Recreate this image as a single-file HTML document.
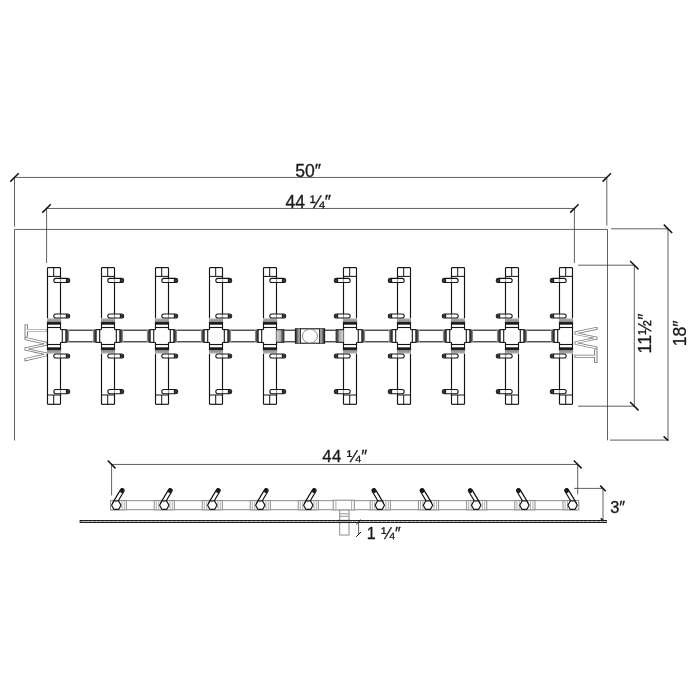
<!DOCTYPE html>
<html lang="en"><head><meta charset="utf-8"><title>Burner dimensions</title>
<style>
html,body{margin:0;padding:0;background:#fff;}
body{width:700px;height:700px;overflow:hidden;}
svg{display:block;will-change:transform;filter:grayscale(1);}
text{font-family:"Liberation Sans",Arial,Helvetica,sans-serif;fill:#1a1a1a;}
#labels text{stroke:#1a1a1a;stroke-width:0.3px;}
.wt{fill:none;stroke:#7c7c7c;stroke-width:0.95px;}
</style></head><body>
<svg width="700" height="700" viewBox="0 0 700 700">
<defs>
<linearGradient id="thrU" x1="0" y1="0" x2="0" y2="1"><stop offset="0" stop-color="#b4b4b4"/><stop offset="0.55" stop-color="#8c8c8c"/><stop offset="0.66" stop-color="#222"/><stop offset="1" stop-color="#1a1a1a"/></linearGradient>
<linearGradient id="thrD" x1="0" y1="1" x2="0" y2="0"><stop offset="0" stop-color="#b4b4b4"/><stop offset="0.55" stop-color="#8c8c8c"/><stop offset="0.66" stop-color="#222"/><stop offset="1" stop-color="#1a1a1a"/></linearGradient>
<linearGradient id="thrR" x1="1" y1="0" x2="0" y2="0"><stop offset="0" stop-color="#a8a8a8"/><stop offset="0.45" stop-color="#555"/><stop offset="1" stop-color="#1e1e1e"/></linearGradient>
<linearGradient id="thrL" x1="0" y1="0" x2="1" y2="0"><stop offset="0" stop-color="#a8a8a8"/><stop offset="0.45" stop-color="#555"/><stop offset="1" stop-color="#1e1e1e"/></linearGradient>
<linearGradient id="nipR" x1="0" y1="0" x2="1" y2="0"><stop offset="0" stop-color="#d8d8d8"/><stop offset="0.5" stop-color="#b0b0b0"/><stop offset="0.72" stop-color="#5a5a5a"/><stop offset="1" stop-color="#2a2a2a"/></linearGradient>
<linearGradient id="nipL" x1="1" y1="0" x2="0" y2="0"><stop offset="0" stop-color="#d8d8d8"/><stop offset="0.5" stop-color="#b0b0b0"/><stop offset="0.72" stop-color="#5a5a5a"/><stop offset="1" stop-color="#2a2a2a"/></linearGradient>
<linearGradient id="teeB" x1="0" y1="0" x2="1" y2="0"><stop offset="0" stop-color="#222"/><stop offset="0.3" stop-color="#555"/><stop offset="0.6" stop-color="#999"/><stop offset="0.85" stop-color="#aaa"/><stop offset="1" stop-color="#444"/></linearGradient>
<linearGradient id="teeC" x1="1" y1="0" x2="0" y2="0"><stop offset="0" stop-color="#222"/><stop offset="0.3" stop-color="#555"/><stop offset="0.6" stop-color="#999"/><stop offset="0.85" stop-color="#aaa"/><stop offset="1" stop-color="#444"/></linearGradient>
</defs>
<rect x="0" y="0" width="700" height="700" fill="#fff"/>

<g id="pan">
<line x1="14.50" y1="229.45" x2="607.50" y2="229.45" stroke="#3a3a3a" stroke-width="0.8" />
<line x1="14.50" y1="229.45" x2="14.50" y2="440.50" stroke="#3a3a3a" stroke-width="0.8" />
<line x1="607.50" y1="229.45" x2="607.50" y2="440.30" stroke="#3a3a3a" stroke-width="0.8" />
</g>
<g id="wt">
<text class="wt" font-size="31.4" transform="translate(47.1,360.9) rotate(-90)" x="0" y="0"><tspan textLength="23.9" lengthAdjust="spacingAndGlyphs">W</tspan><tspan textLength="13.0" lengthAdjust="spacingAndGlyphs">T</tspan></text>
<text class="wt" font-size="31.4" transform="translate(574.8,327.1) rotate(90)" x="0" y="0"><tspan textLength="22.2" lengthAdjust="spacingAndGlyphs">W</tspan><tspan textLength="14.0" lengthAdjust="spacingAndGlyphs">T</tspan></text>
</g>
<g id="top">
<line x1="69.10" y1="330.20" x2="92.90" y2="330.20" stroke="#141414" stroke-width="1.1" />
<line x1="69.10" y1="341.80" x2="92.90" y2="341.80" stroke="#141414" stroke-width="1.1" />
<line x1="123.10" y1="330.20" x2="146.90" y2="330.20" stroke="#141414" stroke-width="1.1" />
<line x1="123.10" y1="341.80" x2="146.90" y2="341.80" stroke="#141414" stroke-width="1.1" />
<line x1="177.10" y1="330.20" x2="200.90" y2="330.20" stroke="#141414" stroke-width="1.1" />
<line x1="177.10" y1="341.80" x2="200.90" y2="341.80" stroke="#141414" stroke-width="1.1" />
<line x1="231.10" y1="330.20" x2="254.90" y2="330.20" stroke="#141414" stroke-width="1.1" />
<line x1="231.10" y1="341.80" x2="254.90" y2="341.80" stroke="#141414" stroke-width="1.1" />
<line x1="284.40" y1="330.20" x2="295.40" y2="330.20" stroke="#141414" stroke-width="1.1" />
<line x1="284.40" y1="341.80" x2="295.40" y2="341.80" stroke="#141414" stroke-width="1.1" />
<line x1="324.60" y1="330.20" x2="335.60" y2="330.20" stroke="#141414" stroke-width="1.1" />
<line x1="324.60" y1="341.80" x2="335.60" y2="341.80" stroke="#141414" stroke-width="1.1" />
<line x1="365.10" y1="330.20" x2="388.90" y2="330.20" stroke="#141414" stroke-width="1.1" />
<line x1="365.10" y1="341.80" x2="388.90" y2="341.80" stroke="#141414" stroke-width="1.1" />
<line x1="419.10" y1="330.20" x2="442.90" y2="330.20" stroke="#141414" stroke-width="1.1" />
<line x1="419.10" y1="341.80" x2="442.90" y2="341.80" stroke="#141414" stroke-width="1.1" />
<line x1="473.10" y1="330.20" x2="496.90" y2="330.20" stroke="#141414" stroke-width="1.1" />
<line x1="473.10" y1="341.80" x2="496.90" y2="341.80" stroke="#141414" stroke-width="1.1" />
<line x1="527.10" y1="330.20" x2="550.90" y2="330.20" stroke="#141414" stroke-width="1.1" />
<line x1="527.10" y1="341.80" x2="550.90" y2="341.80" stroke="#141414" stroke-width="1.1" />
<line x1="47.50" y1="267.60" x2="47.50" y2="318.40" stroke="#141414" stroke-width="1.15" />
<line x1="60.50" y1="267.60" x2="60.50" y2="318.40" stroke="#141414" stroke-width="1.15" />
<line x1="47.50" y1="267.60" x2="60.50" y2="267.60" stroke="#141414" stroke-width="1.15" />
<line x1="47.50" y1="276.40" x2="60.50" y2="276.40" stroke="#141414" stroke-width="1.0" />
<line x1="53.70" y1="267.60" x2="53.70" y2="276.40" stroke="#141414" stroke-width="1.0" />
<rect x="46.90" y="318.40" width="14.20" height="5.70" fill="url(#thrU)" stroke="none"/>
<rect x="47.50" y="324.10" width="13.00" height="3.40" stroke="#141414" stroke-width="1.1" fill="#fff" />
<rect x="53.80" y="313.95" width="15.90" height="4.1" rx="2.05" fill="#fff" fill-opacity="0.55" stroke="#141414" stroke-width="1.05"/>
<path d="M66.50,313.95 L66.50,318.05" stroke="#141414" stroke-width="1.3"/>
<rect x="66.50" y="314.20" width="3.20" height="3.6" rx="1.6" fill="#333" stroke="none"/>
<rect x="53.80" y="278.35" width="15.90" height="4.1" rx="2.05" fill="#fff" fill-opacity="0.55" stroke="#141414" stroke-width="1.05"/>
<path d="M66.50,278.35 L66.50,282.45" stroke="#141414" stroke-width="1.3"/>
<rect x="66.50" y="278.60" width="3.20" height="3.6" rx="1.6" fill="#333" stroke="none"/>
<line x1="47.50" y1="404.30" x2="47.50" y2="353.60" stroke="#141414" stroke-width="1.15" />
<line x1="60.50" y1="404.30" x2="60.50" y2="353.60" stroke="#141414" stroke-width="1.15" />
<line x1="47.50" y1="404.30" x2="60.50" y2="404.30" stroke="#141414" stroke-width="1.15" />
<line x1="47.50" y1="395.00" x2="60.50" y2="395.00" stroke="#141414" stroke-width="1.0" />
<line x1="53.70" y1="404.30" x2="53.70" y2="395.00" stroke="#141414" stroke-width="1.0" />
<rect x="46.90" y="347.90" width="14.20" height="5.70" fill="url(#thrD)" stroke="none"/>
<rect x="47.50" y="344.50" width="13.00" height="3.40" stroke="#141414" stroke-width="1.1" fill="#fff" />
<rect x="53.80" y="353.95" width="15.90" height="4.1" rx="2.05" fill="#fff" fill-opacity="0.55" stroke="#141414" stroke-width="1.05"/>
<path d="M66.50,353.95 L66.50,358.05" stroke="#141414" stroke-width="1.3"/>
<rect x="66.50" y="354.20" width="3.20" height="3.6" rx="1.6" fill="#333" stroke="none"/>
<rect x="53.80" y="389.55" width="15.90" height="4.1" rx="2.05" fill="#fff" fill-opacity="0.55" stroke="#141414" stroke-width="1.05"/>
<path d="M66.50,389.55 L66.50,393.65" stroke="#141414" stroke-width="1.3"/>
<rect x="66.50" y="389.80" width="3.20" height="3.6" rx="1.6" fill="#333" stroke="none"/>
<line x1="47.50" y1="327.50" x2="47.50" y2="344.50" stroke="#141414" stroke-width="1.15" />
<line x1="60.50" y1="327.50" x2="60.50" y2="329.60" stroke="#141414" stroke-width="1.15" />
<line x1="60.50" y1="344.50" x2="60.50" y2="342.40" stroke="#141414" stroke-width="1.15" />
<line x1="60.50" y1="329.60" x2="62.30" y2="329.60" stroke="#141414" stroke-width="1.1" />
<line x1="60.50" y1="342.40" x2="62.30" y2="342.40" stroke="#141414" stroke-width="1.1" />
<rect x="62.30" y="329.60" width="3.60" height="12.80" stroke="#141414" stroke-width="1.1" fill="#fff" />
<rect x="65.90" y="329.40" width="3.20" height="13.2" fill="url(#thrR)" stroke="none"/>
<line x1="101.50" y1="267.60" x2="101.50" y2="318.40" stroke="#141414" stroke-width="1.15" />
<line x1="114.50" y1="267.60" x2="114.50" y2="318.40" stroke="#141414" stroke-width="1.15" />
<line x1="101.50" y1="267.60" x2="114.50" y2="267.60" stroke="#141414" stroke-width="1.15" />
<line x1="101.50" y1="276.40" x2="114.50" y2="276.40" stroke="#141414" stroke-width="1.0" />
<line x1="107.70" y1="267.60" x2="107.70" y2="276.40" stroke="#141414" stroke-width="1.0" />
<rect x="100.90" y="318.40" width="14.20" height="5.70" fill="url(#thrU)" stroke="none"/>
<rect x="101.50" y="324.10" width="13.00" height="3.40" stroke="#141414" stroke-width="1.1" fill="#fff" />
<rect x="107.80" y="313.95" width="15.90" height="4.1" rx="2.05" fill="#fff" fill-opacity="0.55" stroke="#141414" stroke-width="1.05"/>
<path d="M120.50,313.95 L120.50,318.05" stroke="#141414" stroke-width="1.3"/>
<rect x="120.50" y="314.20" width="3.20" height="3.6" rx="1.6" fill="#333" stroke="none"/>
<rect x="107.80" y="278.35" width="15.90" height="4.1" rx="2.05" fill="#fff" fill-opacity="0.55" stroke="#141414" stroke-width="1.05"/>
<path d="M120.50,278.35 L120.50,282.45" stroke="#141414" stroke-width="1.3"/>
<rect x="120.50" y="278.60" width="3.20" height="3.6" rx="1.6" fill="#333" stroke="none"/>
<line x1="101.50" y1="404.30" x2="101.50" y2="353.60" stroke="#141414" stroke-width="1.15" />
<line x1="114.50" y1="404.30" x2="114.50" y2="353.60" stroke="#141414" stroke-width="1.15" />
<line x1="101.50" y1="404.30" x2="114.50" y2="404.30" stroke="#141414" stroke-width="1.15" />
<line x1="101.50" y1="395.00" x2="114.50" y2="395.00" stroke="#141414" stroke-width="1.0" />
<line x1="107.70" y1="404.30" x2="107.70" y2="395.00" stroke="#141414" stroke-width="1.0" />
<rect x="100.90" y="347.90" width="14.20" height="5.70" fill="url(#thrD)" stroke="none"/>
<rect x="101.50" y="344.50" width="13.00" height="3.40" stroke="#141414" stroke-width="1.1" fill="#fff" />
<rect x="107.80" y="353.95" width="15.90" height="4.1" rx="2.05" fill="#fff" fill-opacity="0.55" stroke="#141414" stroke-width="1.05"/>
<path d="M120.50,353.95 L120.50,358.05" stroke="#141414" stroke-width="1.3"/>
<rect x="120.50" y="354.20" width="3.20" height="3.6" rx="1.6" fill="#333" stroke="none"/>
<rect x="107.80" y="389.55" width="15.90" height="4.1" rx="2.05" fill="#fff" fill-opacity="0.55" stroke="#141414" stroke-width="1.05"/>
<path d="M120.50,389.55 L120.50,393.65" stroke="#141414" stroke-width="1.3"/>
<rect x="120.50" y="389.80" width="3.20" height="3.6" rx="1.6" fill="#333" stroke="none"/>
<line x1="101.50" y1="327.50" x2="101.50" y2="329.60" stroke="#141414" stroke-width="1.15" />
<line x1="101.50" y1="344.50" x2="101.50" y2="342.40" stroke="#141414" stroke-width="1.15" />
<line x1="101.50" y1="329.60" x2="99.70" y2="329.60" stroke="#141414" stroke-width="1.1" />
<line x1="101.50" y1="342.40" x2="99.70" y2="342.40" stroke="#141414" stroke-width="1.1" />
<rect x="96.10" y="329.60" width="3.60" height="12.80" stroke="#141414" stroke-width="1.1" fill="#fff" />
<rect x="92.90" y="329.40" width="3.20" height="13.2" fill="url(#thrL)" stroke="none"/>
<line x1="114.50" y1="327.50" x2="114.50" y2="329.60" stroke="#141414" stroke-width="1.15" />
<line x1="114.50" y1="344.50" x2="114.50" y2="342.40" stroke="#141414" stroke-width="1.15" />
<line x1="114.50" y1="329.60" x2="116.30" y2="329.60" stroke="#141414" stroke-width="1.1" />
<line x1="114.50" y1="342.40" x2="116.30" y2="342.40" stroke="#141414" stroke-width="1.1" />
<rect x="116.30" y="329.60" width="3.60" height="12.80" stroke="#141414" stroke-width="1.1" fill="#fff" />
<rect x="119.90" y="329.40" width="3.20" height="13.2" fill="url(#thrR)" stroke="none"/>
<line x1="155.50" y1="267.60" x2="155.50" y2="318.40" stroke="#141414" stroke-width="1.15" />
<line x1="168.50" y1="267.60" x2="168.50" y2="318.40" stroke="#141414" stroke-width="1.15" />
<line x1="155.50" y1="267.60" x2="168.50" y2="267.60" stroke="#141414" stroke-width="1.15" />
<line x1="155.50" y1="276.40" x2="168.50" y2="276.40" stroke="#141414" stroke-width="1.0" />
<line x1="161.70" y1="267.60" x2="161.70" y2="276.40" stroke="#141414" stroke-width="1.0" />
<rect x="154.90" y="318.40" width="14.20" height="5.70" fill="url(#thrU)" stroke="none"/>
<rect x="155.50" y="324.10" width="13.00" height="3.40" stroke="#141414" stroke-width="1.1" fill="#fff" />
<rect x="161.80" y="313.95" width="15.90" height="4.1" rx="2.05" fill="#fff" fill-opacity="0.55" stroke="#141414" stroke-width="1.05"/>
<path d="M174.50,313.95 L174.50,318.05" stroke="#141414" stroke-width="1.3"/>
<rect x="174.50" y="314.20" width="3.20" height="3.6" rx="1.6" fill="#333" stroke="none"/>
<rect x="161.80" y="278.35" width="15.90" height="4.1" rx="2.05" fill="#fff" fill-opacity="0.55" stroke="#141414" stroke-width="1.05"/>
<path d="M174.50,278.35 L174.50,282.45" stroke="#141414" stroke-width="1.3"/>
<rect x="174.50" y="278.60" width="3.20" height="3.6" rx="1.6" fill="#333" stroke="none"/>
<line x1="155.50" y1="404.30" x2="155.50" y2="353.60" stroke="#141414" stroke-width="1.15" />
<line x1="168.50" y1="404.30" x2="168.50" y2="353.60" stroke="#141414" stroke-width="1.15" />
<line x1="155.50" y1="404.30" x2="168.50" y2="404.30" stroke="#141414" stroke-width="1.15" />
<line x1="155.50" y1="395.00" x2="168.50" y2="395.00" stroke="#141414" stroke-width="1.0" />
<line x1="161.70" y1="404.30" x2="161.70" y2="395.00" stroke="#141414" stroke-width="1.0" />
<rect x="154.90" y="347.90" width="14.20" height="5.70" fill="url(#thrD)" stroke="none"/>
<rect x="155.50" y="344.50" width="13.00" height="3.40" stroke="#141414" stroke-width="1.1" fill="#fff" />
<rect x="161.80" y="353.95" width="15.90" height="4.1" rx="2.05" fill="#fff" fill-opacity="0.55" stroke="#141414" stroke-width="1.05"/>
<path d="M174.50,353.95 L174.50,358.05" stroke="#141414" stroke-width="1.3"/>
<rect x="174.50" y="354.20" width="3.20" height="3.6" rx="1.6" fill="#333" stroke="none"/>
<rect x="161.80" y="389.55" width="15.90" height="4.1" rx="2.05" fill="#fff" fill-opacity="0.55" stroke="#141414" stroke-width="1.05"/>
<path d="M174.50,389.55 L174.50,393.65" stroke="#141414" stroke-width="1.3"/>
<rect x="174.50" y="389.80" width="3.20" height="3.6" rx="1.6" fill="#333" stroke="none"/>
<line x1="155.50" y1="327.50" x2="155.50" y2="329.60" stroke="#141414" stroke-width="1.15" />
<line x1="155.50" y1="344.50" x2="155.50" y2="342.40" stroke="#141414" stroke-width="1.15" />
<line x1="155.50" y1="329.60" x2="153.70" y2="329.60" stroke="#141414" stroke-width="1.1" />
<line x1="155.50" y1="342.40" x2="153.70" y2="342.40" stroke="#141414" stroke-width="1.1" />
<rect x="150.10" y="329.60" width="3.60" height="12.80" stroke="#141414" stroke-width="1.1" fill="#fff" />
<rect x="146.90" y="329.40" width="3.20" height="13.2" fill="url(#thrL)" stroke="none"/>
<line x1="168.50" y1="327.50" x2="168.50" y2="329.60" stroke="#141414" stroke-width="1.15" />
<line x1="168.50" y1="344.50" x2="168.50" y2="342.40" stroke="#141414" stroke-width="1.15" />
<line x1="168.50" y1="329.60" x2="170.30" y2="329.60" stroke="#141414" stroke-width="1.1" />
<line x1="168.50" y1="342.40" x2="170.30" y2="342.40" stroke="#141414" stroke-width="1.1" />
<rect x="170.30" y="329.60" width="3.60" height="12.80" stroke="#141414" stroke-width="1.1" fill="#fff" />
<rect x="173.90" y="329.40" width="3.20" height="13.2" fill="url(#thrR)" stroke="none"/>
<line x1="209.50" y1="267.60" x2="209.50" y2="318.40" stroke="#141414" stroke-width="1.15" />
<line x1="222.50" y1="267.60" x2="222.50" y2="318.40" stroke="#141414" stroke-width="1.15" />
<line x1="209.50" y1="267.60" x2="222.50" y2="267.60" stroke="#141414" stroke-width="1.15" />
<line x1="209.50" y1="276.40" x2="222.50" y2="276.40" stroke="#141414" stroke-width="1.0" />
<line x1="215.70" y1="267.60" x2="215.70" y2="276.40" stroke="#141414" stroke-width="1.0" />
<rect x="208.90" y="318.40" width="14.20" height="5.70" fill="url(#thrU)" stroke="none"/>
<rect x="209.50" y="324.10" width="13.00" height="3.40" stroke="#141414" stroke-width="1.1" fill="#fff" />
<rect x="215.80" y="313.95" width="15.90" height="4.1" rx="2.05" fill="#fff" fill-opacity="0.55" stroke="#141414" stroke-width="1.05"/>
<path d="M228.50,313.95 L228.50,318.05" stroke="#141414" stroke-width="1.3"/>
<rect x="228.50" y="314.20" width="3.20" height="3.6" rx="1.6" fill="#333" stroke="none"/>
<rect x="215.80" y="278.35" width="15.90" height="4.1" rx="2.05" fill="#fff" fill-opacity="0.55" stroke="#141414" stroke-width="1.05"/>
<path d="M228.50,278.35 L228.50,282.45" stroke="#141414" stroke-width="1.3"/>
<rect x="228.50" y="278.60" width="3.20" height="3.6" rx="1.6" fill="#333" stroke="none"/>
<line x1="209.50" y1="404.30" x2="209.50" y2="353.60" stroke="#141414" stroke-width="1.15" />
<line x1="222.50" y1="404.30" x2="222.50" y2="353.60" stroke="#141414" stroke-width="1.15" />
<line x1="209.50" y1="404.30" x2="222.50" y2="404.30" stroke="#141414" stroke-width="1.15" />
<line x1="209.50" y1="395.00" x2="222.50" y2="395.00" stroke="#141414" stroke-width="1.0" />
<line x1="215.70" y1="404.30" x2="215.70" y2="395.00" stroke="#141414" stroke-width="1.0" />
<rect x="208.90" y="347.90" width="14.20" height="5.70" fill="url(#thrD)" stroke="none"/>
<rect x="209.50" y="344.50" width="13.00" height="3.40" stroke="#141414" stroke-width="1.1" fill="#fff" />
<rect x="215.80" y="353.95" width="15.90" height="4.1" rx="2.05" fill="#fff" fill-opacity="0.55" stroke="#141414" stroke-width="1.05"/>
<path d="M228.50,353.95 L228.50,358.05" stroke="#141414" stroke-width="1.3"/>
<rect x="228.50" y="354.20" width="3.20" height="3.6" rx="1.6" fill="#333" stroke="none"/>
<rect x="215.80" y="389.55" width="15.90" height="4.1" rx="2.05" fill="#fff" fill-opacity="0.55" stroke="#141414" stroke-width="1.05"/>
<path d="M228.50,389.55 L228.50,393.65" stroke="#141414" stroke-width="1.3"/>
<rect x="228.50" y="389.80" width="3.20" height="3.6" rx="1.6" fill="#333" stroke="none"/>
<line x1="209.50" y1="327.50" x2="209.50" y2="329.60" stroke="#141414" stroke-width="1.15" />
<line x1="209.50" y1="344.50" x2="209.50" y2="342.40" stroke="#141414" stroke-width="1.15" />
<line x1="209.50" y1="329.60" x2="207.70" y2="329.60" stroke="#141414" stroke-width="1.1" />
<line x1="209.50" y1="342.40" x2="207.70" y2="342.40" stroke="#141414" stroke-width="1.1" />
<rect x="204.10" y="329.60" width="3.60" height="12.80" stroke="#141414" stroke-width="1.1" fill="#fff" />
<rect x="200.90" y="329.40" width="3.20" height="13.2" fill="url(#thrL)" stroke="none"/>
<line x1="222.50" y1="327.50" x2="222.50" y2="329.60" stroke="#141414" stroke-width="1.15" />
<line x1="222.50" y1="344.50" x2="222.50" y2="342.40" stroke="#141414" stroke-width="1.15" />
<line x1="222.50" y1="329.60" x2="224.30" y2="329.60" stroke="#141414" stroke-width="1.1" />
<line x1="222.50" y1="342.40" x2="224.30" y2="342.40" stroke="#141414" stroke-width="1.1" />
<rect x="224.30" y="329.60" width="3.60" height="12.80" stroke="#141414" stroke-width="1.1" fill="#fff" />
<rect x="227.90" y="329.40" width="3.20" height="13.2" fill="url(#thrR)" stroke="none"/>
<line x1="263.50" y1="267.60" x2="263.50" y2="318.40" stroke="#141414" stroke-width="1.15" />
<line x1="276.50" y1="267.60" x2="276.50" y2="318.40" stroke="#141414" stroke-width="1.15" />
<line x1="263.50" y1="267.60" x2="276.50" y2="267.60" stroke="#141414" stroke-width="1.15" />
<line x1="263.50" y1="276.40" x2="276.50" y2="276.40" stroke="#141414" stroke-width="1.0" />
<line x1="269.70" y1="267.60" x2="269.70" y2="276.40" stroke="#141414" stroke-width="1.0" />
<rect x="262.90" y="318.40" width="14.20" height="5.70" fill="url(#thrU)" stroke="none"/>
<rect x="263.50" y="324.10" width="13.00" height="3.40" stroke="#141414" stroke-width="1.1" fill="#fff" />
<rect x="269.80" y="313.95" width="15.90" height="4.1" rx="2.05" fill="#fff" fill-opacity="0.55" stroke="#141414" stroke-width="1.05"/>
<path d="M282.50,313.95 L282.50,318.05" stroke="#141414" stroke-width="1.3"/>
<rect x="282.50" y="314.20" width="3.20" height="3.6" rx="1.6" fill="#333" stroke="none"/>
<rect x="269.80" y="278.35" width="15.90" height="4.1" rx="2.05" fill="#fff" fill-opacity="0.55" stroke="#141414" stroke-width="1.05"/>
<path d="M282.50,278.35 L282.50,282.45" stroke="#141414" stroke-width="1.3"/>
<rect x="282.50" y="278.60" width="3.20" height="3.6" rx="1.6" fill="#333" stroke="none"/>
<line x1="263.50" y1="404.30" x2="263.50" y2="353.60" stroke="#141414" stroke-width="1.15" />
<line x1="276.50" y1="404.30" x2="276.50" y2="353.60" stroke="#141414" stroke-width="1.15" />
<line x1="263.50" y1="404.30" x2="276.50" y2="404.30" stroke="#141414" stroke-width="1.15" />
<line x1="263.50" y1="395.00" x2="276.50" y2="395.00" stroke="#141414" stroke-width="1.0" />
<line x1="269.70" y1="404.30" x2="269.70" y2="395.00" stroke="#141414" stroke-width="1.0" />
<rect x="262.90" y="347.90" width="14.20" height="5.70" fill="url(#thrD)" stroke="none"/>
<rect x="263.50" y="344.50" width="13.00" height="3.40" stroke="#141414" stroke-width="1.1" fill="#fff" />
<rect x="269.80" y="353.95" width="15.90" height="4.1" rx="2.05" fill="#fff" fill-opacity="0.55" stroke="#141414" stroke-width="1.05"/>
<path d="M282.50,353.95 L282.50,358.05" stroke="#141414" stroke-width="1.3"/>
<rect x="282.50" y="354.20" width="3.20" height="3.6" rx="1.6" fill="#333" stroke="none"/>
<rect x="269.80" y="389.55" width="15.90" height="4.1" rx="2.05" fill="#fff" fill-opacity="0.55" stroke="#141414" stroke-width="1.05"/>
<path d="M282.50,389.55 L282.50,393.65" stroke="#141414" stroke-width="1.3"/>
<rect x="282.50" y="389.80" width="3.20" height="3.6" rx="1.6" fill="#333" stroke="none"/>
<line x1="263.50" y1="327.50" x2="263.50" y2="329.60" stroke="#141414" stroke-width="1.15" />
<line x1="263.50" y1="344.50" x2="263.50" y2="342.40" stroke="#141414" stroke-width="1.15" />
<line x1="263.50" y1="329.60" x2="261.70" y2="329.60" stroke="#141414" stroke-width="1.1" />
<line x1="263.50" y1="342.40" x2="261.70" y2="342.40" stroke="#141414" stroke-width="1.1" />
<rect x="258.10" y="329.60" width="3.60" height="12.80" stroke="#141414" stroke-width="1.1" fill="#fff" />
<rect x="254.90" y="329.40" width="3.20" height="13.2" fill="url(#thrL)" stroke="none"/>
<line x1="276.50" y1="327.50" x2="276.50" y2="344.50" stroke="#141414" stroke-width="1.15" />
<rect x="276.50" y="329.70" width="7.90" height="12.6" fill="url(#nipR)" stroke="none"/>
<line x1="276.50" y1="329.70" x2="284.40" y2="329.70" stroke="#141414" stroke-width="1.0" />
<line x1="276.50" y1="342.30" x2="284.40" y2="342.30" stroke="#141414" stroke-width="1.0" />
<line x1="343.50" y1="267.60" x2="343.50" y2="318.40" stroke="#141414" stroke-width="1.15" />
<line x1="356.50" y1="267.60" x2="356.50" y2="318.40" stroke="#141414" stroke-width="1.15" />
<line x1="343.50" y1="267.60" x2="356.50" y2="267.60" stroke="#141414" stroke-width="1.15" />
<line x1="343.50" y1="276.40" x2="356.50" y2="276.40" stroke="#141414" stroke-width="1.0" />
<line x1="349.70" y1="267.60" x2="349.70" y2="276.40" stroke="#141414" stroke-width="1.0" />
<rect x="342.90" y="318.40" width="14.20" height="5.70" fill="url(#thrU)" stroke="none"/>
<rect x="343.50" y="324.10" width="13.00" height="3.40" stroke="#141414" stroke-width="1.1" fill="#fff" />
<rect x="334.30" y="313.95" width="15.90" height="4.1" rx="2.05" fill="#fff" fill-opacity="0.55" stroke="#141414" stroke-width="1.05"/>
<path d="M337.50,313.95 L337.50,318.05" stroke="#141414" stroke-width="1.3"/>
<rect x="334.30" y="314.20" width="3.20" height="3.6" rx="1.6" fill="#333" stroke="none"/>
<rect x="334.30" y="278.35" width="15.90" height="4.1" rx="2.05" fill="#fff" fill-opacity="0.55" stroke="#141414" stroke-width="1.05"/>
<path d="M337.50,278.35 L337.50,282.45" stroke="#141414" stroke-width="1.3"/>
<rect x="334.30" y="278.60" width="3.20" height="3.6" rx="1.6" fill="#333" stroke="none"/>
<line x1="343.50" y1="404.30" x2="343.50" y2="353.60" stroke="#141414" stroke-width="1.15" />
<line x1="356.50" y1="404.30" x2="356.50" y2="353.60" stroke="#141414" stroke-width="1.15" />
<line x1="343.50" y1="404.30" x2="356.50" y2="404.30" stroke="#141414" stroke-width="1.15" />
<line x1="343.50" y1="395.00" x2="356.50" y2="395.00" stroke="#141414" stroke-width="1.0" />
<line x1="349.70" y1="404.30" x2="349.70" y2="395.00" stroke="#141414" stroke-width="1.0" />
<rect x="342.90" y="347.90" width="14.20" height="5.70" fill="url(#thrD)" stroke="none"/>
<rect x="343.50" y="344.50" width="13.00" height="3.40" stroke="#141414" stroke-width="1.1" fill="#fff" />
<rect x="334.30" y="353.95" width="15.90" height="4.1" rx="2.05" fill="#fff" fill-opacity="0.55" stroke="#141414" stroke-width="1.05"/>
<path d="M337.50,353.95 L337.50,358.05" stroke="#141414" stroke-width="1.3"/>
<rect x="334.30" y="354.20" width="3.20" height="3.6" rx="1.6" fill="#333" stroke="none"/>
<rect x="334.30" y="389.55" width="15.90" height="4.1" rx="2.05" fill="#fff" fill-opacity="0.55" stroke="#141414" stroke-width="1.05"/>
<path d="M337.50,389.55 L337.50,393.65" stroke="#141414" stroke-width="1.3"/>
<rect x="334.30" y="389.80" width="3.20" height="3.6" rx="1.6" fill="#333" stroke="none"/>
<line x1="343.50" y1="327.50" x2="343.50" y2="344.50" stroke="#141414" stroke-width="1.15" />
<rect x="335.60" y="329.70" width="7.90" height="12.6" fill="url(#nipL)" stroke="none"/>
<line x1="335.60" y1="329.70" x2="343.50" y2="329.70" stroke="#141414" stroke-width="1.0" />
<line x1="335.60" y1="342.30" x2="343.50" y2="342.30" stroke="#141414" stroke-width="1.0" />
<line x1="356.50" y1="327.50" x2="356.50" y2="329.60" stroke="#141414" stroke-width="1.15" />
<line x1="356.50" y1="344.50" x2="356.50" y2="342.40" stroke="#141414" stroke-width="1.15" />
<line x1="356.50" y1="329.60" x2="358.30" y2="329.60" stroke="#141414" stroke-width="1.1" />
<line x1="356.50" y1="342.40" x2="358.30" y2="342.40" stroke="#141414" stroke-width="1.1" />
<rect x="358.30" y="329.60" width="3.60" height="12.80" stroke="#141414" stroke-width="1.1" fill="#fff" />
<rect x="361.90" y="329.40" width="3.20" height="13.2" fill="url(#thrR)" stroke="none"/>
<line x1="397.50" y1="267.60" x2="397.50" y2="318.40" stroke="#141414" stroke-width="1.15" />
<line x1="410.50" y1="267.60" x2="410.50" y2="318.40" stroke="#141414" stroke-width="1.15" />
<line x1="397.50" y1="267.60" x2="410.50" y2="267.60" stroke="#141414" stroke-width="1.15" />
<line x1="397.50" y1="276.40" x2="410.50" y2="276.40" stroke="#141414" stroke-width="1.0" />
<line x1="403.70" y1="267.60" x2="403.70" y2="276.40" stroke="#141414" stroke-width="1.0" />
<rect x="396.90" y="318.40" width="14.20" height="5.70" fill="url(#thrU)" stroke="none"/>
<rect x="397.50" y="324.10" width="13.00" height="3.40" stroke="#141414" stroke-width="1.1" fill="#fff" />
<rect x="388.30" y="313.95" width="15.90" height="4.1" rx="2.05" fill="#fff" fill-opacity="0.55" stroke="#141414" stroke-width="1.05"/>
<path d="M391.50,313.95 L391.50,318.05" stroke="#141414" stroke-width="1.3"/>
<rect x="388.30" y="314.20" width="3.20" height="3.6" rx="1.6" fill="#333" stroke="none"/>
<rect x="388.30" y="278.35" width="15.90" height="4.1" rx="2.05" fill="#fff" fill-opacity="0.55" stroke="#141414" stroke-width="1.05"/>
<path d="M391.50,278.35 L391.50,282.45" stroke="#141414" stroke-width="1.3"/>
<rect x="388.30" y="278.60" width="3.20" height="3.6" rx="1.6" fill="#333" stroke="none"/>
<line x1="397.50" y1="404.30" x2="397.50" y2="353.60" stroke="#141414" stroke-width="1.15" />
<line x1="410.50" y1="404.30" x2="410.50" y2="353.60" stroke="#141414" stroke-width="1.15" />
<line x1="397.50" y1="404.30" x2="410.50" y2="404.30" stroke="#141414" stroke-width="1.15" />
<line x1="397.50" y1="395.00" x2="410.50" y2="395.00" stroke="#141414" stroke-width="1.0" />
<line x1="403.70" y1="404.30" x2="403.70" y2="395.00" stroke="#141414" stroke-width="1.0" />
<rect x="396.90" y="347.90" width="14.20" height="5.70" fill="url(#thrD)" stroke="none"/>
<rect x="397.50" y="344.50" width="13.00" height="3.40" stroke="#141414" stroke-width="1.1" fill="#fff" />
<rect x="388.30" y="353.95" width="15.90" height="4.1" rx="2.05" fill="#fff" fill-opacity="0.55" stroke="#141414" stroke-width="1.05"/>
<path d="M391.50,353.95 L391.50,358.05" stroke="#141414" stroke-width="1.3"/>
<rect x="388.30" y="354.20" width="3.20" height="3.6" rx="1.6" fill="#333" stroke="none"/>
<rect x="388.30" y="389.55" width="15.90" height="4.1" rx="2.05" fill="#fff" fill-opacity="0.55" stroke="#141414" stroke-width="1.05"/>
<path d="M391.50,389.55 L391.50,393.65" stroke="#141414" stroke-width="1.3"/>
<rect x="388.30" y="389.80" width="3.20" height="3.6" rx="1.6" fill="#333" stroke="none"/>
<line x1="397.50" y1="327.50" x2="397.50" y2="329.60" stroke="#141414" stroke-width="1.15" />
<line x1="397.50" y1="344.50" x2="397.50" y2="342.40" stroke="#141414" stroke-width="1.15" />
<line x1="397.50" y1="329.60" x2="395.70" y2="329.60" stroke="#141414" stroke-width="1.1" />
<line x1="397.50" y1="342.40" x2="395.70" y2="342.40" stroke="#141414" stroke-width="1.1" />
<rect x="392.10" y="329.60" width="3.60" height="12.80" stroke="#141414" stroke-width="1.1" fill="#fff" />
<rect x="388.90" y="329.40" width="3.20" height="13.2" fill="url(#thrL)" stroke="none"/>
<line x1="410.50" y1="327.50" x2="410.50" y2="329.60" stroke="#141414" stroke-width="1.15" />
<line x1="410.50" y1="344.50" x2="410.50" y2="342.40" stroke="#141414" stroke-width="1.15" />
<line x1="410.50" y1="329.60" x2="412.30" y2="329.60" stroke="#141414" stroke-width="1.1" />
<line x1="410.50" y1="342.40" x2="412.30" y2="342.40" stroke="#141414" stroke-width="1.1" />
<rect x="412.30" y="329.60" width="3.60" height="12.80" stroke="#141414" stroke-width="1.1" fill="#fff" />
<rect x="415.90" y="329.40" width="3.20" height="13.2" fill="url(#thrR)" stroke="none"/>
<line x1="451.50" y1="267.60" x2="451.50" y2="318.40" stroke="#141414" stroke-width="1.15" />
<line x1="464.50" y1="267.60" x2="464.50" y2="318.40" stroke="#141414" stroke-width="1.15" />
<line x1="451.50" y1="267.60" x2="464.50" y2="267.60" stroke="#141414" stroke-width="1.15" />
<line x1="451.50" y1="276.40" x2="464.50" y2="276.40" stroke="#141414" stroke-width="1.0" />
<line x1="457.70" y1="267.60" x2="457.70" y2="276.40" stroke="#141414" stroke-width="1.0" />
<rect x="450.90" y="318.40" width="14.20" height="5.70" fill="url(#thrU)" stroke="none"/>
<rect x="451.50" y="324.10" width="13.00" height="3.40" stroke="#141414" stroke-width="1.1" fill="#fff" />
<rect x="442.30" y="313.95" width="15.90" height="4.1" rx="2.05" fill="#fff" fill-opacity="0.55" stroke="#141414" stroke-width="1.05"/>
<path d="M445.50,313.95 L445.50,318.05" stroke="#141414" stroke-width="1.3"/>
<rect x="442.30" y="314.20" width="3.20" height="3.6" rx="1.6" fill="#333" stroke="none"/>
<rect x="442.30" y="278.35" width="15.90" height="4.1" rx="2.05" fill="#fff" fill-opacity="0.55" stroke="#141414" stroke-width="1.05"/>
<path d="M445.50,278.35 L445.50,282.45" stroke="#141414" stroke-width="1.3"/>
<rect x="442.30" y="278.60" width="3.20" height="3.6" rx="1.6" fill="#333" stroke="none"/>
<line x1="451.50" y1="404.30" x2="451.50" y2="353.60" stroke="#141414" stroke-width="1.15" />
<line x1="464.50" y1="404.30" x2="464.50" y2="353.60" stroke="#141414" stroke-width="1.15" />
<line x1="451.50" y1="404.30" x2="464.50" y2="404.30" stroke="#141414" stroke-width="1.15" />
<line x1="451.50" y1="395.00" x2="464.50" y2="395.00" stroke="#141414" stroke-width="1.0" />
<line x1="457.70" y1="404.30" x2="457.70" y2="395.00" stroke="#141414" stroke-width="1.0" />
<rect x="450.90" y="347.90" width="14.20" height="5.70" fill="url(#thrD)" stroke="none"/>
<rect x="451.50" y="344.50" width="13.00" height="3.40" stroke="#141414" stroke-width="1.1" fill="#fff" />
<rect x="442.30" y="353.95" width="15.90" height="4.1" rx="2.05" fill="#fff" fill-opacity="0.55" stroke="#141414" stroke-width="1.05"/>
<path d="M445.50,353.95 L445.50,358.05" stroke="#141414" stroke-width="1.3"/>
<rect x="442.30" y="354.20" width="3.20" height="3.6" rx="1.6" fill="#333" stroke="none"/>
<rect x="442.30" y="389.55" width="15.90" height="4.1" rx="2.05" fill="#fff" fill-opacity="0.55" stroke="#141414" stroke-width="1.05"/>
<path d="M445.50,389.55 L445.50,393.65" stroke="#141414" stroke-width="1.3"/>
<rect x="442.30" y="389.80" width="3.20" height="3.6" rx="1.6" fill="#333" stroke="none"/>
<line x1="451.50" y1="327.50" x2="451.50" y2="329.60" stroke="#141414" stroke-width="1.15" />
<line x1="451.50" y1="344.50" x2="451.50" y2="342.40" stroke="#141414" stroke-width="1.15" />
<line x1="451.50" y1="329.60" x2="449.70" y2="329.60" stroke="#141414" stroke-width="1.1" />
<line x1="451.50" y1="342.40" x2="449.70" y2="342.40" stroke="#141414" stroke-width="1.1" />
<rect x="446.10" y="329.60" width="3.60" height="12.80" stroke="#141414" stroke-width="1.1" fill="#fff" />
<rect x="442.90" y="329.40" width="3.20" height="13.2" fill="url(#thrL)" stroke="none"/>
<line x1="464.50" y1="327.50" x2="464.50" y2="329.60" stroke="#141414" stroke-width="1.15" />
<line x1="464.50" y1="344.50" x2="464.50" y2="342.40" stroke="#141414" stroke-width="1.15" />
<line x1="464.50" y1="329.60" x2="466.30" y2="329.60" stroke="#141414" stroke-width="1.1" />
<line x1="464.50" y1="342.40" x2="466.30" y2="342.40" stroke="#141414" stroke-width="1.1" />
<rect x="466.30" y="329.60" width="3.60" height="12.80" stroke="#141414" stroke-width="1.1" fill="#fff" />
<rect x="469.90" y="329.40" width="3.20" height="13.2" fill="url(#thrR)" stroke="none"/>
<line x1="505.50" y1="267.60" x2="505.50" y2="318.40" stroke="#141414" stroke-width="1.15" />
<line x1="518.50" y1="267.60" x2="518.50" y2="318.40" stroke="#141414" stroke-width="1.15" />
<line x1="505.50" y1="267.60" x2="518.50" y2="267.60" stroke="#141414" stroke-width="1.15" />
<line x1="505.50" y1="276.40" x2="518.50" y2="276.40" stroke="#141414" stroke-width="1.0" />
<line x1="511.70" y1="267.60" x2="511.70" y2="276.40" stroke="#141414" stroke-width="1.0" />
<rect x="504.90" y="318.40" width="14.20" height="5.70" fill="url(#thrU)" stroke="none"/>
<rect x="505.50" y="324.10" width="13.00" height="3.40" stroke="#141414" stroke-width="1.1" fill="#fff" />
<rect x="496.30" y="313.95" width="15.90" height="4.1" rx="2.05" fill="#fff" fill-opacity="0.55" stroke="#141414" stroke-width="1.05"/>
<path d="M499.50,313.95 L499.50,318.05" stroke="#141414" stroke-width="1.3"/>
<rect x="496.30" y="314.20" width="3.20" height="3.6" rx="1.6" fill="#333" stroke="none"/>
<rect x="496.30" y="278.35" width="15.90" height="4.1" rx="2.05" fill="#fff" fill-opacity="0.55" stroke="#141414" stroke-width="1.05"/>
<path d="M499.50,278.35 L499.50,282.45" stroke="#141414" stroke-width="1.3"/>
<rect x="496.30" y="278.60" width="3.20" height="3.6" rx="1.6" fill="#333" stroke="none"/>
<line x1="505.50" y1="404.30" x2="505.50" y2="353.60" stroke="#141414" stroke-width="1.15" />
<line x1="518.50" y1="404.30" x2="518.50" y2="353.60" stroke="#141414" stroke-width="1.15" />
<line x1="505.50" y1="404.30" x2="518.50" y2="404.30" stroke="#141414" stroke-width="1.15" />
<line x1="505.50" y1="395.00" x2="518.50" y2="395.00" stroke="#141414" stroke-width="1.0" />
<line x1="511.70" y1="404.30" x2="511.70" y2="395.00" stroke="#141414" stroke-width="1.0" />
<rect x="504.90" y="347.90" width="14.20" height="5.70" fill="url(#thrD)" stroke="none"/>
<rect x="505.50" y="344.50" width="13.00" height="3.40" stroke="#141414" stroke-width="1.1" fill="#fff" />
<rect x="496.30" y="353.95" width="15.90" height="4.1" rx="2.05" fill="#fff" fill-opacity="0.55" stroke="#141414" stroke-width="1.05"/>
<path d="M499.50,353.95 L499.50,358.05" stroke="#141414" stroke-width="1.3"/>
<rect x="496.30" y="354.20" width="3.20" height="3.6" rx="1.6" fill="#333" stroke="none"/>
<rect x="496.30" y="389.55" width="15.90" height="4.1" rx="2.05" fill="#fff" fill-opacity="0.55" stroke="#141414" stroke-width="1.05"/>
<path d="M499.50,389.55 L499.50,393.65" stroke="#141414" stroke-width="1.3"/>
<rect x="496.30" y="389.80" width="3.20" height="3.6" rx="1.6" fill="#333" stroke="none"/>
<line x1="505.50" y1="327.50" x2="505.50" y2="329.60" stroke="#141414" stroke-width="1.15" />
<line x1="505.50" y1="344.50" x2="505.50" y2="342.40" stroke="#141414" stroke-width="1.15" />
<line x1="505.50" y1="329.60" x2="503.70" y2="329.60" stroke="#141414" stroke-width="1.1" />
<line x1="505.50" y1="342.40" x2="503.70" y2="342.40" stroke="#141414" stroke-width="1.1" />
<rect x="500.10" y="329.60" width="3.60" height="12.80" stroke="#141414" stroke-width="1.1" fill="#fff" />
<rect x="496.90" y="329.40" width="3.20" height="13.2" fill="url(#thrL)" stroke="none"/>
<line x1="518.50" y1="327.50" x2="518.50" y2="329.60" stroke="#141414" stroke-width="1.15" />
<line x1="518.50" y1="344.50" x2="518.50" y2="342.40" stroke="#141414" stroke-width="1.15" />
<line x1="518.50" y1="329.60" x2="520.30" y2="329.60" stroke="#141414" stroke-width="1.1" />
<line x1="518.50" y1="342.40" x2="520.30" y2="342.40" stroke="#141414" stroke-width="1.1" />
<rect x="520.30" y="329.60" width="3.60" height="12.80" stroke="#141414" stroke-width="1.1" fill="#fff" />
<rect x="523.90" y="329.40" width="3.20" height="13.2" fill="url(#thrR)" stroke="none"/>
<line x1="559.50" y1="267.60" x2="559.50" y2="318.40" stroke="#141414" stroke-width="1.15" />
<line x1="572.50" y1="267.60" x2="572.50" y2="318.40" stroke="#141414" stroke-width="1.15" />
<line x1="559.50" y1="267.60" x2="572.50" y2="267.60" stroke="#141414" stroke-width="1.15" />
<line x1="559.50" y1="276.40" x2="572.50" y2="276.40" stroke="#141414" stroke-width="1.0" />
<line x1="565.70" y1="267.60" x2="565.70" y2="276.40" stroke="#141414" stroke-width="1.0" />
<rect x="558.90" y="318.40" width="14.20" height="5.70" fill="url(#thrU)" stroke="none"/>
<rect x="559.50" y="324.10" width="13.00" height="3.40" stroke="#141414" stroke-width="1.1" fill="#fff" />
<rect x="550.30" y="313.95" width="15.90" height="4.1" rx="2.05" fill="#fff" fill-opacity="0.55" stroke="#141414" stroke-width="1.05"/>
<path d="M553.50,313.95 L553.50,318.05" stroke="#141414" stroke-width="1.3"/>
<rect x="550.30" y="314.20" width="3.20" height="3.6" rx="1.6" fill="#333" stroke="none"/>
<rect x="550.30" y="278.35" width="15.90" height="4.1" rx="2.05" fill="#fff" fill-opacity="0.55" stroke="#141414" stroke-width="1.05"/>
<path d="M553.50,278.35 L553.50,282.45" stroke="#141414" stroke-width="1.3"/>
<rect x="550.30" y="278.60" width="3.20" height="3.6" rx="1.6" fill="#333" stroke="none"/>
<line x1="559.50" y1="404.30" x2="559.50" y2="353.60" stroke="#141414" stroke-width="1.15" />
<line x1="572.50" y1="404.30" x2="572.50" y2="353.60" stroke="#141414" stroke-width="1.15" />
<line x1="559.50" y1="404.30" x2="572.50" y2="404.30" stroke="#141414" stroke-width="1.15" />
<line x1="559.50" y1="395.00" x2="572.50" y2="395.00" stroke="#141414" stroke-width="1.0" />
<line x1="565.70" y1="404.30" x2="565.70" y2="395.00" stroke="#141414" stroke-width="1.0" />
<rect x="558.90" y="347.90" width="14.20" height="5.70" fill="url(#thrD)" stroke="none"/>
<rect x="559.50" y="344.50" width="13.00" height="3.40" stroke="#141414" stroke-width="1.1" fill="#fff" />
<rect x="550.30" y="353.95" width="15.90" height="4.1" rx="2.05" fill="#fff" fill-opacity="0.55" stroke="#141414" stroke-width="1.05"/>
<path d="M553.50,353.95 L553.50,358.05" stroke="#141414" stroke-width="1.3"/>
<rect x="550.30" y="354.20" width="3.20" height="3.6" rx="1.6" fill="#333" stroke="none"/>
<rect x="550.30" y="389.55" width="15.90" height="4.1" rx="2.05" fill="#fff" fill-opacity="0.55" stroke="#141414" stroke-width="1.05"/>
<path d="M553.50,389.55 L553.50,393.65" stroke="#141414" stroke-width="1.3"/>
<rect x="550.30" y="389.80" width="3.20" height="3.6" rx="1.6" fill="#333" stroke="none"/>
<line x1="559.50" y1="327.50" x2="559.50" y2="329.60" stroke="#141414" stroke-width="1.15" />
<line x1="559.50" y1="344.50" x2="559.50" y2="342.40" stroke="#141414" stroke-width="1.15" />
<line x1="559.50" y1="329.60" x2="557.70" y2="329.60" stroke="#141414" stroke-width="1.1" />
<line x1="559.50" y1="342.40" x2="557.70" y2="342.40" stroke="#141414" stroke-width="1.1" />
<rect x="554.10" y="329.60" width="3.60" height="12.80" stroke="#141414" stroke-width="1.1" fill="#fff" />
<rect x="550.90" y="329.40" width="3.20" height="13.2" fill="url(#thrL)" stroke="none"/>
<line x1="572.50" y1="327.50" x2="572.50" y2="344.50" stroke="#141414" stroke-width="1.15" />
<rect x="295.40" y="328.80" width="29.20" height="14.40" stroke="#141414" stroke-width="1.1" fill="#fff" />
<rect x="295.4" y="328.8" width="4.9" height="14.4" fill="url(#teeB)"/>
<rect x="319.7" y="328.8" width="4.9" height="14.4" fill="url(#teeC)"/>
<line x1="300.40" y1="328.80" x2="300.40" y2="343.20" stroke="#141414" stroke-width="0.9" />
<line x1="319.60" y1="328.80" x2="319.60" y2="343.20" stroke="#141414" stroke-width="0.9" />
<ellipse cx="309.9" cy="336.1" rx="7.5" ry="6.9" fill="#fff" stroke="#7a7a7a" stroke-width="0.9"/>
</g>
<g id="dims">
<line x1="14.50" y1="177.45" x2="606.80" y2="177.45" stroke="#3a3a3a" stroke-width="0.8" />
<line x1="14.50" y1="177.45" x2="14.50" y2="226.50" stroke="#3a3a3a" stroke-width="0.8" />
<line x1="606.80" y1="177.45" x2="606.80" y2="225.50" stroke="#3a3a3a" stroke-width="0.8" />
<line x1="10.30" y1="181.65" x2="18.70" y2="173.25" stroke="#141414" stroke-width="1.5"/>
<line x1="602.60" y1="181.65" x2="611.00" y2="173.25" stroke="#141414" stroke-width="1.5"/>
<line x1="46.60" y1="208.45" x2="574.40" y2="208.45" stroke="#3a3a3a" stroke-width="0.8" />
<line x1="46.60" y1="208.45" x2="46.60" y2="263.00" stroke="#3a3a3a" stroke-width="0.8" />
<line x1="574.40" y1="208.45" x2="574.40" y2="263.00" stroke="#3a3a3a" stroke-width="0.8" />
<line x1="42.40" y1="212.65" x2="50.80" y2="204.25" stroke="#141414" stroke-width="1.5"/>
<line x1="570.20" y1="212.65" x2="578.60" y2="204.25" stroke="#141414" stroke-width="1.5"/>
<line x1="611.00" y1="228.80" x2="668.00" y2="228.80" stroke="#3a3a3a" stroke-width="0.8" />
<line x1="610.00" y1="440.10" x2="668.00" y2="440.10" stroke="#3a3a3a" stroke-width="0.8" />
<line x1="668.00" y1="228.80" x2="668.00" y2="440.10" stroke="#3a3a3a" stroke-width="0.8" />
<line x1="663.80" y1="224.60" x2="672.20" y2="233.00" stroke="#141414" stroke-width="1.5"/>
<line x1="663.60" y1="436.40" x2="668.40" y2="440.60" stroke="#141414" stroke-width="1.5" />
<line x1="578.00" y1="265.20" x2="634.30" y2="265.20" stroke="#3a3a3a" stroke-width="0.8" />
<line x1="578.00" y1="406.20" x2="634.30" y2="406.20" stroke="#3a3a3a" stroke-width="0.8" />
<line x1="634.30" y1="265.20" x2="634.30" y2="406.20" stroke="#3a3a3a" stroke-width="0.8" />
<line x1="630.10" y1="261.00" x2="638.50" y2="269.40" stroke="#141414" stroke-width="1.5"/>
<line x1="630.10" y1="402.00" x2="638.50" y2="410.40" stroke="#141414" stroke-width="1.5"/>
</g>
<g id="labels">
<text x="308.2" y="177.2" font-size="17.6" text-anchor="middle">50″</text>
<text x="308.2" y="207.8" font-size="17.6" text-anchor="middle">44 ¼″</text>
<text x="344.9" y="462.3" font-size="16.8" letter-spacing="0.45" text-anchor="middle">44 ¼″</text>
<text font-size="17.6" text-anchor="middle" letter-spacing="0.2" transform="translate(650.9,333.4) rotate(-90)">11½″</text>
<text font-size="17.6" text-anchor="middle" transform="translate(686.0,333.3) rotate(-90)">18″</text>
<text x="610.2" y="513.2" font-size="16.4">3″</text>
<text x="366.8" y="539.2" font-size="16" letter-spacing="0.5">1 ¼″</text>
</g>
<g id="side">
<line x1="111.60" y1="464.45" x2="577.70" y2="464.45" stroke="#3a3a3a" stroke-width="0.8" />
<line x1="111.60" y1="464.45" x2="111.60" y2="495.40" stroke="#3a3a3a" stroke-width="0.8" />
<line x1="577.70" y1="464.45" x2="577.70" y2="494.40" stroke="#3a3a3a" stroke-width="0.8" />
<line x1="107.70" y1="460.55" x2="115.50" y2="468.35" stroke="#141414" stroke-width="1.5"/>
<line x1="573.80" y1="460.55" x2="581.60" y2="468.35" stroke="#141414" stroke-width="1.5"/>
<line x1="574.00" y1="488.40" x2="603.00" y2="488.40" stroke="#3a3a3a" stroke-width="0.8" />
<line x1="603.00" y1="488.40" x2="603.00" y2="520.60" stroke="#3a3a3a" stroke-width="0.8" />
<line x1="600.20" y1="485.60" x2="605.80" y2="491.20" stroke="#141414" stroke-width="1.5"/>
<line x1="600.80" y1="518.40" x2="603.60" y2="521.00" stroke="#141414" stroke-width="1.5" />
<line x1="80.00" y1="520.45" x2="607.00" y2="520.45" stroke="#1e1e1e" stroke-width="1.1" />
<line x1="80.00" y1="522.50" x2="607.00" y2="522.50" stroke="#1e1e1e" stroke-width="1.1" />
<line x1="80.00" y1="521.50" x2="607.00" y2="521.50" stroke="#aaa" stroke-width="1.0" stroke-dasharray="3.4 0.8"/>
<line x1="80.00" y1="520.00" x2="80.00" y2="523.00" stroke="#1e1e1e" stroke-width="0.8" />
<line x1="110.70" y1="500.70" x2="578.20" y2="500.70" stroke="#8c8c8c" stroke-width="1.0" />
<line x1="110.70" y1="509.70" x2="578.20" y2="509.70" stroke="#8c8c8c" stroke-width="1.0" />
<rect x="333.20" y="500.20" width="21.10" height="9.80" stroke="#8c8c8c" stroke-width="1.0" fill="#fff" />
<line x1="335.90" y1="500.20" x2="335.90" y2="510.00" stroke="#8c8c8c" stroke-width="0.7" />
<line x1="351.60" y1="500.20" x2="351.60" y2="510.00" stroke="#8c8c8c" stroke-width="0.7" />
<rect x="339.70" y="510.00" width="9.30" height="25.00" stroke="#8c8c8c" stroke-width="1.0" fill="#fff" />
<line x1="339.70" y1="513.80" x2="349.00" y2="513.80" stroke="#8c8c8c" stroke-width="0.9" />
<line x1="339.70" y1="516.30" x2="349.00" y2="516.30" stroke="#8c8c8c" stroke-width="0.9" />
<line x1="338.00" y1="520.45" x2="351.00" y2="520.45" stroke="#1e1e1e" stroke-width="1.1" />
<line x1="338.00" y1="522.50" x2="351.00" y2="522.50" stroke="#1e1e1e" stroke-width="1.1" />
<line x1="338.00" y1="521.50" x2="351.00" y2="521.50" stroke="#aaa" stroke-width="1.0" />
<rect x="110.60" y="500.50" width="15.80" height="9.40" stroke="#8c8c8c" stroke-width="1.0" fill="#fff" />
<line x1="121.90" y1="500.50" x2="121.90" y2="509.90" stroke="#8c8c8c" stroke-width="0.7" />
<line x1="124.30" y1="500.50" x2="124.30" y2="509.90" stroke="#8c8c8c" stroke-width="0.7" />
<path d="M112.37,503.36 L120.61,489.65 A1.85,1.85 0 0 1 123.79,491.55 L115.55,505.26" fill="#fff" stroke="#141414" stroke-width="1.2"/>
<line x1="121.89" y1="491.11" x2="122.46" y2="490.17" stroke="#1a1a1a" stroke-width="3.7" stroke-linecap="round"/>
<polygon points="121.00,505.20 118.65,509.43 113.95,509.43 111.60,505.20 113.95,500.97 118.65,500.97" fill="#fff" stroke="#141414" stroke-width="1.2" stroke-linejoin="round"/>
<rect x="154.20" y="500.50" width="20.20" height="9.40" stroke="#8c8c8c" stroke-width="1.0" fill="#fff" />
<line x1="156.30" y1="500.50" x2="156.30" y2="509.90" stroke="#8c8c8c" stroke-width="0.7" />
<line x1="158.70" y1="500.50" x2="158.70" y2="509.90" stroke="#8c8c8c" stroke-width="0.7" />
<line x1="169.90" y1="500.50" x2="169.90" y2="509.90" stroke="#8c8c8c" stroke-width="0.7" />
<line x1="172.30" y1="500.50" x2="172.30" y2="509.90" stroke="#8c8c8c" stroke-width="0.7" />
<path d="M160.37,503.36 L168.61,489.65 A1.85,1.85 0 0 1 171.79,491.55 L163.55,505.26" fill="#fff" stroke="#141414" stroke-width="1.2"/>
<line x1="169.89" y1="491.11" x2="170.46" y2="490.17" stroke="#1a1a1a" stroke-width="3.7" stroke-linecap="round"/>
<polygon points="169.00,505.20 166.65,509.43 161.95,509.43 159.60,505.20 161.95,500.97 166.65,500.97" fill="#fff" stroke="#141414" stroke-width="1.2" stroke-linejoin="round"/>
<rect x="202.20" y="500.50" width="20.20" height="9.40" stroke="#8c8c8c" stroke-width="1.0" fill="#fff" />
<line x1="204.30" y1="500.50" x2="204.30" y2="509.90" stroke="#8c8c8c" stroke-width="0.7" />
<line x1="206.70" y1="500.50" x2="206.70" y2="509.90" stroke="#8c8c8c" stroke-width="0.7" />
<line x1="217.90" y1="500.50" x2="217.90" y2="509.90" stroke="#8c8c8c" stroke-width="0.7" />
<line x1="220.30" y1="500.50" x2="220.30" y2="509.90" stroke="#8c8c8c" stroke-width="0.7" />
<path d="M208.37,503.36 L216.61,489.65 A1.85,1.85 0 0 1 219.79,491.55 L211.55,505.26" fill="#fff" stroke="#141414" stroke-width="1.2"/>
<line x1="217.89" y1="491.11" x2="218.46" y2="490.17" stroke="#1a1a1a" stroke-width="3.7" stroke-linecap="round"/>
<polygon points="217.00,505.20 214.65,509.43 209.95,509.43 207.60,505.20 209.95,500.97 214.65,500.97" fill="#fff" stroke="#141414" stroke-width="1.2" stroke-linejoin="round"/>
<rect x="250.20" y="500.50" width="20.20" height="9.40" stroke="#8c8c8c" stroke-width="1.0" fill="#fff" />
<line x1="252.30" y1="500.50" x2="252.30" y2="509.90" stroke="#8c8c8c" stroke-width="0.7" />
<line x1="254.70" y1="500.50" x2="254.70" y2="509.90" stroke="#8c8c8c" stroke-width="0.7" />
<line x1="265.90" y1="500.50" x2="265.90" y2="509.90" stroke="#8c8c8c" stroke-width="0.7" />
<line x1="268.30" y1="500.50" x2="268.30" y2="509.90" stroke="#8c8c8c" stroke-width="0.7" />
<path d="M256.37,503.36 L264.61,489.65 A1.85,1.85 0 0 1 267.79,491.55 L259.55,505.26" fill="#fff" stroke="#141414" stroke-width="1.2"/>
<line x1="265.89" y1="491.11" x2="266.46" y2="490.17" stroke="#1a1a1a" stroke-width="3.7" stroke-linecap="round"/>
<polygon points="265.00,505.20 262.65,509.43 257.95,509.43 255.60,505.20 257.95,500.97 262.65,500.97" fill="#fff" stroke="#141414" stroke-width="1.2" stroke-linejoin="round"/>
<rect x="298.20" y="500.50" width="20.20" height="9.40" stroke="#8c8c8c" stroke-width="1.0" fill="#fff" />
<line x1="300.30" y1="500.50" x2="300.30" y2="509.90" stroke="#8c8c8c" stroke-width="0.7" />
<line x1="302.70" y1="500.50" x2="302.70" y2="509.90" stroke="#8c8c8c" stroke-width="0.7" />
<line x1="313.90" y1="500.50" x2="313.90" y2="509.90" stroke="#8c8c8c" stroke-width="0.7" />
<line x1="316.30" y1="500.50" x2="316.30" y2="509.90" stroke="#8c8c8c" stroke-width="0.7" />
<path d="M304.37,503.36 L312.61,489.65 A1.85,1.85 0 0 1 315.79,491.55 L307.55,505.26" fill="#fff" stroke="#141414" stroke-width="1.2"/>
<line x1="313.89" y1="491.11" x2="314.46" y2="490.17" stroke="#1a1a1a" stroke-width="3.7" stroke-linecap="round"/>
<polygon points="313.00,505.20 310.65,509.43 305.95,509.43 303.60,505.20 305.95,500.97 310.65,500.97" fill="#fff" stroke="#141414" stroke-width="1.2" stroke-linejoin="round"/>
<rect x="370.20" y="500.50" width="20.20" height="9.40" stroke="#8c8c8c" stroke-width="1.0" fill="#fff" />
<line x1="372.30" y1="500.50" x2="372.30" y2="509.90" stroke="#8c8c8c" stroke-width="0.7" />
<line x1="374.70" y1="500.50" x2="374.70" y2="509.90" stroke="#8c8c8c" stroke-width="0.7" />
<line x1="385.90" y1="500.50" x2="385.90" y2="509.90" stroke="#8c8c8c" stroke-width="0.7" />
<line x1="388.30" y1="500.50" x2="388.30" y2="509.90" stroke="#8c8c8c" stroke-width="0.7" />
<path d="M380.55,505.26 L372.31,491.55 A1.85,1.85 0 0 1 375.49,489.65 L383.73,503.36" fill="#fff" stroke="#141414" stroke-width="1.2"/>
<line x1="374.21" y1="491.11" x2="373.64" y2="490.17" stroke="#1a1a1a" stroke-width="3.7" stroke-linecap="round"/>
<polygon points="384.50,505.20 382.15,509.43 377.45,509.43 375.10,505.20 377.45,500.97 382.15,500.97" fill="#fff" stroke="#141414" stroke-width="1.2" stroke-linejoin="round"/>
<rect x="418.40" y="500.50" width="20.20" height="9.40" stroke="#8c8c8c" stroke-width="1.0" fill="#fff" />
<line x1="420.50" y1="500.50" x2="420.50" y2="509.90" stroke="#8c8c8c" stroke-width="0.7" />
<line x1="422.90" y1="500.50" x2="422.90" y2="509.90" stroke="#8c8c8c" stroke-width="0.7" />
<line x1="434.10" y1="500.50" x2="434.10" y2="509.90" stroke="#8c8c8c" stroke-width="0.7" />
<line x1="436.50" y1="500.50" x2="436.50" y2="509.90" stroke="#8c8c8c" stroke-width="0.7" />
<path d="M428.75,505.26 L420.51,491.55 A1.85,1.85 0 0 1 423.69,489.65 L431.93,503.36" fill="#fff" stroke="#141414" stroke-width="1.2"/>
<line x1="422.41" y1="491.11" x2="421.84" y2="490.17" stroke="#1a1a1a" stroke-width="3.7" stroke-linecap="round"/>
<polygon points="432.70,505.20 430.35,509.43 425.65,509.43 423.30,505.20 425.65,500.97 430.35,500.97" fill="#fff" stroke="#141414" stroke-width="1.2" stroke-linejoin="round"/>
<rect x="466.60" y="500.50" width="20.20" height="9.40" stroke="#8c8c8c" stroke-width="1.0" fill="#fff" />
<line x1="468.70" y1="500.50" x2="468.70" y2="509.90" stroke="#8c8c8c" stroke-width="0.7" />
<line x1="471.10" y1="500.50" x2="471.10" y2="509.90" stroke="#8c8c8c" stroke-width="0.7" />
<line x1="482.30" y1="500.50" x2="482.30" y2="509.90" stroke="#8c8c8c" stroke-width="0.7" />
<line x1="484.70" y1="500.50" x2="484.70" y2="509.90" stroke="#8c8c8c" stroke-width="0.7" />
<path d="M476.95,505.26 L468.71,491.55 A1.85,1.85 0 0 1 471.89,489.65 L480.13,503.36" fill="#fff" stroke="#141414" stroke-width="1.2"/>
<line x1="470.61" y1="491.11" x2="470.04" y2="490.17" stroke="#1a1a1a" stroke-width="3.7" stroke-linecap="round"/>
<polygon points="480.90,505.20 478.55,509.43 473.85,509.43 471.50,505.20 473.85,500.97 478.55,500.97" fill="#fff" stroke="#141414" stroke-width="1.2" stroke-linejoin="round"/>
<rect x="514.80" y="500.50" width="20.20" height="9.40" stroke="#8c8c8c" stroke-width="1.0" fill="#fff" />
<line x1="516.90" y1="500.50" x2="516.90" y2="509.90" stroke="#8c8c8c" stroke-width="0.7" />
<line x1="519.30" y1="500.50" x2="519.30" y2="509.90" stroke="#8c8c8c" stroke-width="0.7" />
<line x1="530.50" y1="500.50" x2="530.50" y2="509.90" stroke="#8c8c8c" stroke-width="0.7" />
<line x1="532.90" y1="500.50" x2="532.90" y2="509.90" stroke="#8c8c8c" stroke-width="0.7" />
<path d="M525.15,505.26 L516.91,491.55 A1.85,1.85 0 0 1 520.09,489.65 L528.33,503.36" fill="#fff" stroke="#141414" stroke-width="1.2"/>
<line x1="518.81" y1="491.11" x2="518.24" y2="490.17" stroke="#1a1a1a" stroke-width="3.7" stroke-linecap="round"/>
<polygon points="529.10,505.20 526.75,509.43 522.05,509.43 519.70,505.20 522.05,500.97 526.75,500.97" fill="#fff" stroke="#141414" stroke-width="1.2" stroke-linejoin="round"/>
<rect x="563.00" y="500.50" width="15.80" height="9.40" stroke="#8c8c8c" stroke-width="1.0" fill="#fff" />
<line x1="565.10" y1="500.50" x2="565.10" y2="509.90" stroke="#8c8c8c" stroke-width="0.7" />
<line x1="567.50" y1="500.50" x2="567.50" y2="509.90" stroke="#8c8c8c" stroke-width="0.7" />
<path d="M573.35,505.26 L565.11,491.55 A1.85,1.85 0 0 1 568.29,489.65 L576.53,503.36" fill="#fff" stroke="#141414" stroke-width="1.2"/>
<line x1="567.01" y1="491.11" x2="566.44" y2="490.17" stroke="#1a1a1a" stroke-width="3.7" stroke-linecap="round"/>
<polygon points="577.30,505.20 574.95,509.43 570.25,509.43 567.90,505.20 570.25,500.97 574.95,500.97" fill="#fff" stroke="#141414" stroke-width="1.2" stroke-linejoin="round"/>
<line x1="358.60" y1="522.00" x2="358.60" y2="534.40" stroke="#3a3a3a" stroke-width="0.8" />
<line x1="356.20" y1="524.40" x2="361.00" y2="519.60" stroke="#141414" stroke-width="1.0"/>
<line x1="356.20" y1="536.80" x2="361.00" y2="532.00" stroke="#141414" stroke-width="1.0"/>
</g>
</svg>
</body></html>
